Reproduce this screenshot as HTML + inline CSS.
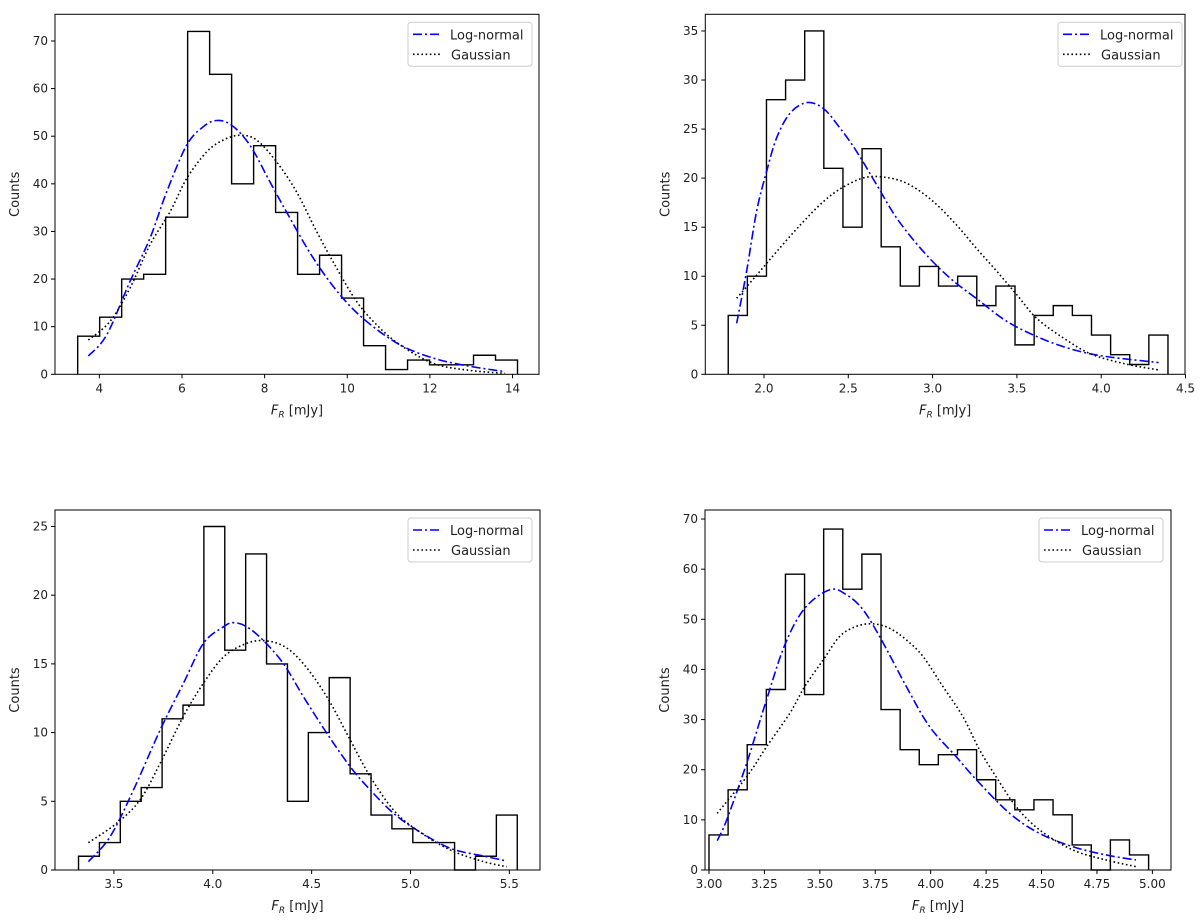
<!DOCTYPE html>
<html><head><meta charset="utf-8"><style>
body{margin:0;background:#fff;}
svg{display:block;font-family:"DejaVu Sans","Liberation Sans",sans-serif;}
</style></head><body>
<svg id="fig" width="1200" height="922"></svg>
<script>
// Panel 1 data
const p1Start = 3.476, p1End = 14.12;
const p1Counts = [8,12,20,21,33,72,63,40,48,34,21,25,16,6,1,3,2,2,4,3];
const p1LogX = [3.734,4.177,4.742,5.226,5.629,6.113,6.516,6.839,7.202,7.645,8.129,8.613,9.177,9.823,10.468,11.274,12.081,12.887,13.815];
const p1LogY = [3.85,8.26,19.5,28.6,38.3,48.1,52.0,53.3,52.3,48.1,40.4,32.8,24.4,16.7,11.1,6.2,3.4,1.8,0.56];
const p1GauX = [3.734,4.258,4.742,5.226,5.710,6.113,6.597,7.0,7.403,7.806,8.29,8.774,9.258,9.742,10.226,10.71,11.274,12.081,12.887,13.815];
const p1GauY = [7.2,11.1,18.1,27.2,34.1,41.1,46.7,49.2,50.2,49.2,44.6,38.3,30.0,22.3,15.3,10.4,6.2,2.3,0.9,0.2];
const p1XTicks = [4,6,8,10,12,14];
const p1XTickLabels = ["4","6","8","10","12","14"];
const p1YTicks = [0,10,20,30,40,50,60,70];
// Panel 2 data
const p2Start = 1.788, p2End = 4.396;
const p2Counts = [6,10,28,30,35,21,15,23,13,9,11,9,10,7,9,3,6,7,6,4,2,1,4];
const p2LogX = [1.838,1.897,1.956,2.016,2.075,2.154,2.253,2.352,2.451,2.55,2.669,2.788,2.946,3.104,3.262,3.44,3.638,3.836,4.034,4.34];
const p2LogY = [5.2,10.5,16.6,20.7,24.1,26.6,27.7,27.1,25.1,22.7,19.3,15.9,12.5,9.8,7.7,5.4,3.7,2.5,1.8,1.2];
const p2GauX = [1.838,1.956,2.075,2.214,2.352,2.471,2.609,2.748,2.866,3.005,3.143,3.262,3.381,3.5,3.618,3.776,3.935,4.133,4.34];
const p2GauY = [7.75,10.1,12.5,15.2,17.6,19.1,20.1,20.0,19.3,17.6,15.2,12.8,10.5,8.1,5.7,3.7,2.1,1.1,0.44];
const p2XTicks = [2.0,2.5,3.0,3.5,4.0,4.5];
const p2XTickLabels = ["2.0","2.5","3.0","3.5","4.0","4.5"];
const p2YTicks = [0,5,10,15,20,25,30,35];
// Panel 3 data
const p3Start = 3.321, p3End = 5.54;
const p3Counts = [1,2,5,6,11,12,25,16,23,15,5,10,14,7,4,3,2,2,0,1,4];
const p3LogX = [3.371,3.481,3.599,3.734,3.852,3.953,4.054,4.105,4.172,4.256,4.358,4.459,4.577,4.695,4.796,4.914,5.032,5.201,5.369,5.479];
const p3LogY = [0.61,2.43,5.83,10.2,13.6,16.5,17.7,18.0,17.7,16.7,15.0,12.6,9.95,7.52,5.83,4.13,2.91,1.58,1.02,0.68];
const p3GauX = [3.371,3.514,3.632,3.734,3.852,3.953,4.054,4.155,4.248,4.358,4.459,4.577,4.695,4.796,4.914,5.032,5.201,5.369,5.487];
const p3GauY = [1.99,3.40,5.10,7.77,11.2,13.6,15.5,16.4,16.7,16.3,15.0,12.6,9.47,6.80,4.37,2.91,1.46,0.61,0.24];
const p3XTicks = [3.5,4.0,4.5,5.0,5.5];
const p3XTickLabels = ["3.5","4.0","4.5","5.0","5.5"];
const p3YTicks = [0,5,10,15,20,25];
// Panel 4 data
const p4Start = 3.0, p4End = 4.983;
const p4Counts = [7,16,25,36,59,35,68,56,63,32,24,21,23,24,18,14,12,14,11,5,0,6,3];
const p4LogX = [3.037,3.080,3.170,3.255,3.342,3.432,3.545,3.620,3.695,3.778,3.890,3.995,4.115,4.206,4.356,4.491,4.641,4.791,4.926];
const p4LogY = [5.85,10.0,21.3,33.3,44.9,52.2,55.9,54.9,51.9,45.9,36.6,28.6,22.6,18.0,11.3,7.3,4.65,3.0,2.0];
const p4GauX = [3.037,3.170,3.260,3.365,3.432,3.515,3.590,3.665,3.740,3.815,3.890,3.965,4.055,4.145,4.220,4.295,4.386,4.491,4.641,4.791,4.926];
const p4GauY = [11.3,18.6,24.6,31.3,36.6,41.9,46.6,48.6,49.1,48.2,45.9,42.6,36.6,30.6,24.0,18.6,12.6,8.0,4.0,2.0,0.67];
const p4XTicks = [3.0,3.25,3.5,3.75,4.0,4.25,4.5,4.75,5.0];
const p4XTickLabels = ["3.00","3.25","3.50","3.75","4.00","4.25","4.50","4.75","5.00"];
const p4YTicks = [0,10,20,30,40,50,60,70];

const NS = "http://www.w3.org/2000/svg";
const fig = document.getElementById('fig');
function mk(tag, attrs, parent){
  const e = document.createElementNS(NS, tag);
  for (const k in attrs) e.setAttribute(k, attrs[k]);
  (parent||fig).appendChild(e);
  return e;
}
function smooth(pts){
  let d = "M"+pts[0][0].toFixed(2)+","+pts[0][1].toFixed(2);
  for (let i=0;i<pts.length-1;i++){
    const p0=pts[Math.max(i-1,0)], p1=pts[i], p2=pts[i+1], p3=pts[Math.min(i+2,pts.length-1)];
    const c1=[p1[0]+(p2[0]-p0[0])/6, p1[1]+(p2[1]-p0[1])/6];
    const c2=[p2[0]-(p3[0]-p1[0])/6, p2[1]-(p3[1]-p1[1])/6];
    d += " C"+c1[0].toFixed(2)+","+c1[1].toFixed(2)+" "+c2[0].toFixed(2)+","+c2[1].toFixed(2)+" "+p2[0].toFixed(2)+","+p2[1].toFixed(2);
  }
  return d;
}
function panel(id, box, xd, yd, start, end, counts, logX, logY, gauX, gauY, xt, xtl, yt, legendX){
  const [L,T,R,B] = box;
  const g = mk('g', {});
  
  
  const sx = v => L + (v - xd[0])/(xd[1]-xd[0])*(R-L);
  const sy = v => B - (v - yd[0])/(yd[1]-yd[0])*(B-T);
  // histogram step outline
  const w = (end-start)/counts.length;
  let d = "M"+sx(start)+","+sy(0);
  counts.forEach((c,i)=>{ d += " L"+sx(start+i*w)+","+sy(c)+" L"+sx(start+(i+1)*w)+","+sy(c); });
  d += " L"+sx(end)+","+sy(0);
  const h = mk('path', {d:d, fill:'none', stroke:'#000', 'stroke-width':1.4}, g);
  
  
  // curves
  const lp = logX.map((x,i)=>[sx(x), sy(logY[i])]);
  const l = mk('path', {d:smooth(lp), fill:'none', stroke:'#0000ff', 'stroke-width':1.6, 'stroke-dasharray':'9 3 2 3'}, g);
  
  
  const gp = gauX.map((x,i)=>[sx(x), sy(gauY[i])]);
  const gc = mk('path', {d:smooth(gp), fill:'none', stroke:'#000', 'stroke-width':1.6, 'stroke-dasharray':'1.6 2.6'}, g);
  
  
  // frame
  const f = mk('rect', {x:L, y:T, width:R-L, height:B-T, fill:'none', stroke:'#000', 'stroke-width':1}, g);
  
  
  // x ticks
  xt.forEach((v,i)=>{
    const x = sx(v);
    mk('line', {x1:x, x2:x, y1:B, y2:B+4, stroke:'#000'}, g);
    const t = mk('text', {x:x, y:B+18, 'font-size':12, 'text-anchor':'middle', fill:'#222'}, g);
    t.textContent = xtl[i];
    
    
  });
  yt.forEach(v=>{
    const y = sy(v);
    mk('line', {x1:L-4, x2:L, y1:y, y2:y, stroke:'#000'}, g);
    const t = mk('text', {x:L-7, y:y+4, 'font-size':12, 'text-anchor':'end', fill:'#222'}, g);
    t.textContent = String(v);
    
    
  });
  const xl = mk('text', {x:(L+R)/2, y:B+40, 'font-size':13, 'text-anchor':'middle', fill:'#222'}, g);
  xl.innerHTML = '<tspan font-style="italic">F</tspan><tspan font-size="9" font-style="italic" dy="3">R</tspan><tspan dy="-3"> [mJy]</tspan>';
  
  
  const yl = mk('text', {x:0, y:0, 'font-size':13, 'text-anchor':'middle', fill:'#222', transform:'translate('+(L-36)+','+((T+B)/2)+') rotate(-90)'}, g);
  yl.textContent = 'Counts';
  
  
  // legend
  const lx = legendX, ly = T+8;
  const lg = mk('g', {}, g);
  
  
  mk('rect', {x:lx, y:ly, width:124, height:44, rx:3, fill:'#fff', stroke:'#ccc', 'stroke-width':1}, lg);
  mk('line', {x1:lx+5, x2:lx+33, y1:ly+12, y2:ly+12, stroke:'#0000ff', 'stroke-width':1.6, 'stroke-dasharray':'9 3 2 3'}, lg);
  const t1 = mk('text', {x:lx+42, y:ly+17, 'font-size':13, fill:'#222'}, lg);
  t1.textContent = 'Log-normal';
  
  
  mk('line', {x1:lx+5, x2:lx+33, y1:ly+32, y2:ly+32, stroke:'#000', 'stroke-width':1.6, 'stroke-dasharray':'1.6 2.6'}, lg);
  const t2 = mk('text', {x:lx+43, y:ly+37, 'font-size':13, fill:'#222'}, lg);
  t2.textContent = 'Gaussian';
  
  
}
panel('panel-top-left', [55,14.3,539,374.3], [2.927,14.64], [0,75.6], p1Start, p1End, p1Counts, p1LogX, p1LogY, p1GauX, p1GauY, p1XTicks, p1XTickLabels, p1YTicks, 408);
panel('panel-top-right', [705.3,14.3,1185,374.3], [1.652,4.497], [0,36.7], p2Start, p2End, p2Counts, p2LogX, p2LogY, p2GauX, p2GauY, p2XTicks, p2XTickLabels, p2YTicks, 1058);
panel('panel-bottom-left', [55,510,540,870], [3.202,5.655], [0,26.2], p3Start, p3End, p3Counts, p3LogX, p3LogY, p3GauX, p3GauY, p3XTicks, p3XTickLabels, p3YTicks, 408);
panel('panel-bottom-right', [705,510,1171,870], [2.982,5.084], [0,71.8], p4Start, p4End, p4Counts, p4LogX, p4LogY, p4GauX, p4GauY, p4XTicks, p4XTickLabels, p4YTicks, 1039);
</script>
</body></html>
